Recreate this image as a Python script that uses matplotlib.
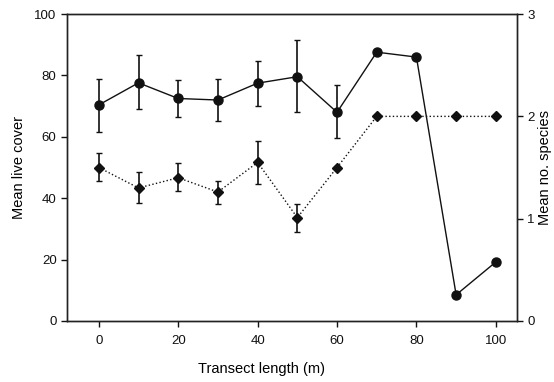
import matplotlib
matplotlib.use("Agg")
import matplotlib.pyplot as plt

plt.rcParams['font.family'] = ['Liberation Sans', 'DejaVu Sans']

# ── data ──────────────────────────────────────────────
transect = [0, 10, 20, 30, 40, 50, 60, 70, 80, 90, 100]

cover = [70.4, 77.6, 72.5, 72.0, 77.5, 79.6, 68.0, 87.6, 86.0, 8.5, 19.2]
cover_up = [79.0, 86.6, 78.6, 79.0, 84.6, 91.5, 77.0, None, None, None, None]
cover_lo = [61.5, 69.0, 66.4, 65.0, 70.2, 68.0, 59.6, None, None, None, None]

species = [1.50, 1.30, 1.40, 1.26, 1.55, 1.01, 1.50, 2.0, 2.0, 2.0, 2.0]
species_up = [1.64, 1.46, 1.54, 1.37, 1.76, 1.14, None, None, None, None, None]
species_lo = [1.37, 1.15, 1.27, 1.14, 1.34, 0.87, None, None, None, None, None]

# ── figure ────────────────────────────────────────────
fig = plt.figure(figsize=(5.54, 3.82), dpi=100)
ax = fig.add_axes([0.121, 0.160, 0.812, 0.803])
ax2 = ax.twinx()

ink = '#111111'

# error bars only where they exist
n1 = sum(v is not None for v in cover_up)
ax.errorbar(transect[:n1], cover[:n1],
            yerr=[[c - l for c, l in zip(cover[:n1], cover_lo[:n1])],
                  [u - c for c, u in zip(cover[:n1], cover_up[:n1])]],
            fmt='none', ecolor=ink, elinewidth=1.2, capsize=2.5, capthick=1.0, zorder=3)
ax.plot(transect, cover, '-', color=ink, lw=1.0, marker='o', ms=6.5, zorder=4)

n2 = sum(v is not None for v in species_up)
ax2.errorbar(transect[:n2], species[:n2],
             yerr=[[c - l for c, l in zip(species[:n2], species_lo[:n2])],
                   [u - c for c, u in zip(species[:n2], species_up[:n2])]],
             fmt='none', ecolor=ink, elinewidth=1.2, capsize=2.5, capthick=1.0, zorder=3)
ax2.plot(transect, species, ':', color=ink, lw=1.0, marker='D', ms=5, zorder=4)

ax.set_xlim(-8, 105.3)
ax.set_ylim(0, 100)
ax2.set_ylim(0, 3)
ax.set_xticks([0, 20, 40, 60, 80, 100])
ax.set_yticks([0, 20, 40, 60, 80, 100])
ax2.set_yticks([0, 1, 2, 3])

for a in (ax, ax2):
    for s in a.spines.values():
        s.set_color('#222222')
        s.set_linewidth(1.0)
    a.tick_params(direction='out', length=4, width=1.0, colors=ink, labelsize=9.5)
ax.tick_params(axis='x', pad=6)

ax.set_xlabel("Transect length (m)", fontsize=10.5)
ax.xaxis.set_label_coords(0.433, -0.135)
ax.set_ylabel("Mean live cover", fontsize=10.5, labelpad=6)
ax2.set_ylabel("Mean no. species", fontsize=10.5, rotation=90, labelpad=2)

fig.savefig("out.png", dpi=100)
